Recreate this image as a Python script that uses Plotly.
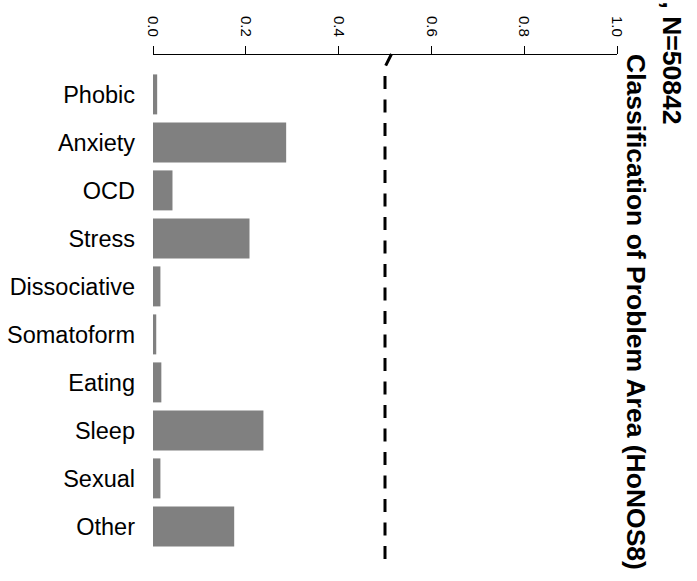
import plotly.graph_objects as go

categories = ["Phobic", "Anxiety", "OCD", "Stress", "Dissociative", "Somatoform",
              "Eating", "Sleep", "Sexual", "Other"]
values = [0.009, 0.287, 0.042, 0.208, 0.016, 0.007, 0.018, 0.238, 0.016, 0.175]
tick_vals = [0.0, 0.2, 0.4, 0.6, 0.8, 1.0]
tick_text = ["0.0", "0.2", "0.4", "0.6", "0.8", "1.0"]
threshold = 0.5
title_main = "Classification of Problem Area (HoNOS8)"
title_top = ", N=50842"

FONT = "Liberation Sans, Arial, Helvetica, sans-serif"

W, H = 697, 581
L, R, T, B = 153, 80, 55, 15
plot_h = H - T - B

def py(pix):
    return (H - B - pix) / plot_h

fig = go.Figure()
fig.add_trace(go.Bar(
    y=categories, x=values, orientation="h",
    marker=dict(color="#808080", line=dict(width=0)),
))

# y index mapping: pixel 94.4 for first, 48 px per step
first_px, step = 94.4, 48.0
y_top = (T - first_px) / step
y_bot = (H - B - first_px) / step

fig.update_layout(
    width=W, height=H,
    margin=dict(l=L, r=R, t=T, b=B, pad=0, autoexpand=False),
    paper_bgcolor="white", plot_bgcolor="white",
    bargap=0.167,
    showlegend=False,
    font=dict(family=FONT, color="black"),
    xaxis=dict(
        side="top", range=[0, 1], tickvals=tick_vals, ticktext=tick_text,
        tickangle=90, showline=True, linecolor="black", linewidth=1,
        ticks="outside", ticklen=8, tickwidth=1, tickcolor="black",
        ticklabelstandoff=4,
        showgrid=False, zeroline=False, automargin=False,
        tickfont=dict(size=15, family=FONT, color="black"),
    ),
    yaxis=dict(
        type="category", categoryorder="array", categoryarray=categories,
        range=[y_bot, y_top], showgrid=False, zeroline=False, showline=False,
        ticks="", ticklabelstandoff=17, automargin=False,
        tickfont=dict(size=23.5, family=FONT, color="black"),
    ),
)

# dashed reference line
path = "M {:.4f},{:.4f} L {:.4f},{:.4f} L {:.4f},{:.4f}".format(
    threshold + 0.014, py(54), threshold, py(67), threshold, py(561))
fig.add_shape(type="path", xref="x", yref="paper", path=path,
              line=dict(color="black", width=3, dash="13px,10.5px"))

fig.add_annotation(text="<b>" + title_main + "</b>", textangle=90,
                   xref="paper", yref="paper",
                   x=(636 - L) / (W - L - R), y=py(312),
                   xanchor="center", yanchor="middle", showarrow=False,
                   font=dict(size=26.5, family=FONT, color="black"))
fig.add_annotation(text="<b>" + title_top + "</b>", textangle=90,
                   xref="paper", yref="paper",
                   x=(672 - L) / (W - L - R), y=py(126),
                   xanchor="center", yanchor="bottom", showarrow=False,
                   font=dict(size=26.5, family=FONT, color="black"))

fig.write_html("out.html", config={"displayModeBar": False},
               post_script="document.body.style.margin='0';")
